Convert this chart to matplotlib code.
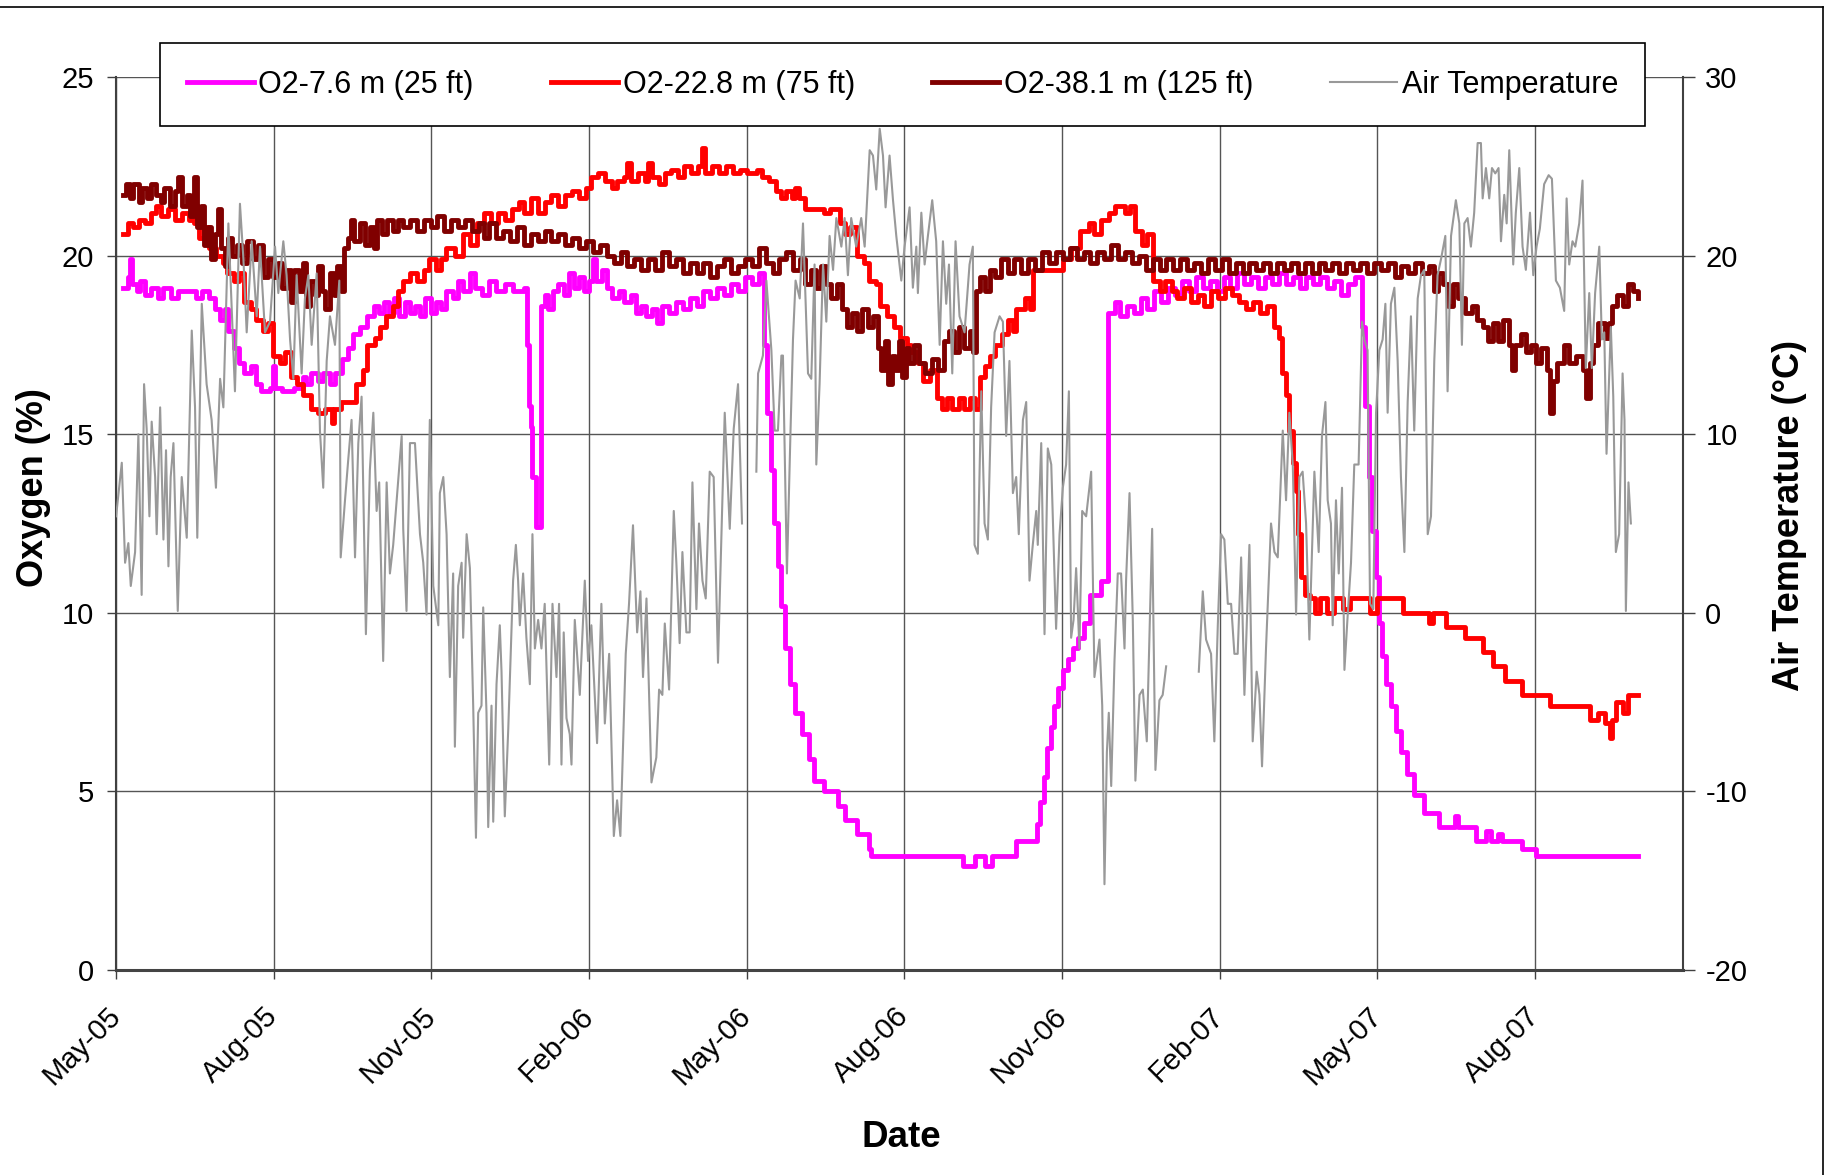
import numpy as np
import pandas as pd
import matplotlib
matplotlib.use("Agg")
import matplotlib.pyplot as plt
from matplotlib.lines import Line2D

plt.rcParams['font.family'] = ['Liberation Sans', 'DejaVu Sans']
plt.rcParams['axes.unicode_minus'] = False

# time axis: days counted from 10 May 2005
start = pd.Timestamp("2005-05-10")

x_tick_labels = ["May-05", "Aug-05", "Nov-05", "Feb-06", "May-06",
                 "Aug-06", "Nov-06", "Feb-07", "May-07", "Aug-07"]

# O2 at 7.6 m (25 ft)
o2_25_day = [4, 7, 8, 9, 12, 14, 17, 20, 24, 27, 32, 36, 42, 46, 50, 54, 57, 60, 63, 65,
             68, 71, 74, 78, 81, 84, 89, 91, 92, 96, 103, 108, 110, 113, 117, 120, 124, 127, 131, 134,
             137, 141, 145, 149, 152, 155, 158, 161, 164, 167, 170, 173, 176, 179, 182, 185, 188, 191, 195, 198,
             201, 205, 208, 212, 216, 220, 225, 230, 236, 238, 239, 240, 241, 243, 246, 248, 250, 253, 256, 259,
             262, 265, 268, 271, 274, 276, 278, 281, 284, 287, 291, 294, 298, 301, 304, 307, 310, 313, 316, 320,
             324, 328, 332, 336, 340, 344, 348, 352, 356, 360, 364, 368, 372, 375, 377, 379, 381, 383, 385, 387,
             390, 393, 397, 401, 404, 410, 418, 422, 429, 436, 437, 490, 497, 503, 507, 521, 533, 535, 537, 539,
             541, 543, 545, 548, 551, 554, 557, 560, 564, 570, 574, 578, 581, 585, 589, 593, 597, 601, 605, 609,
             613, 617, 621, 625, 629, 633, 637, 641, 645, 649, 653, 657, 661, 665, 669, 673, 677, 681, 685, 689,
             693, 697, 701, 705, 709, 713, 717, 721, 723, 725, 727, 729, 731, 733, 735, 738, 741, 744, 747, 751,
             757, 766, 775, 777, 787, 793, 796, 800, 802, 814, 822, 881]
o2_25_val = [19.1, 19.4, 19.9, 19.2, 19.0, 19.3, 18.9, 19.1, 18.8, 19.1, 18.8, 19.0, 19.0, 18.8, 19.0, 18.8, 18.5, 18.2, 18.5, 17.9,
             17.4, 17.0, 16.7, 16.9, 16.4, 16.2, 16.3, 16.9, 16.3, 16.2, 16.3, 16.6, 16.4, 16.7, 16.5, 16.7, 16.4, 16.7, 17.1, 17.4,
             17.8, 18.0, 18.3, 18.6, 18.4, 18.7, 18.4, 18.8, 18.3, 18.7, 18.4, 18.6, 18.3, 18.8, 18.4, 18.7, 18.5, 19.0, 18.8, 19.3,
             19.0, 19.5, 19.1, 18.9, 19.3, 19.0, 19.2, 19.0, 19.1, 17.5, 15.8, 15.2, 13.8, 12.4, 18.6, 18.9, 18.5, 19.0, 19.2, 18.9,
             19.5, 19.1, 19.4, 19.0, 19.3, 19.9, 19.3, 19.6, 19.1, 18.8, 19.0, 18.7, 18.9, 18.4, 18.6, 18.3, 18.5, 18.1, 18.6, 18.4,
             18.7, 18.5, 18.8, 18.6, 19.0, 18.8, 19.1, 18.9, 19.2, 19.0, 19.4, 19.2, 19.5, 17.5, 15.6, 14.0, 12.5, 11.3, 10.2, 9.0,
             8.0, 7.2, 6.6, 5.9, 5.3, 5.0, 4.6, 4.2, 3.8, 3.4, 3.2, 2.9, 3.2, 2.9, 3.2, 3.6, 4.1, 4.7, 5.4, 6.2,
             6.8, 7.4, 7.9, 8.4, 8.7, 9.0, 9.3, 9.7, 10.5, 10.9, 18.4, 18.7, 18.3, 18.6, 18.4, 18.8, 18.5, 19.0, 18.7, 19.1,
             18.9, 19.3, 19.0, 19.4, 19.1, 19.3, 19.0, 19.4, 19.1, 19.5, 19.2, 19.4, 19.1, 19.4, 19.2, 19.5, 19.2, 19.4, 19.1, 19.4,
             19.2, 19.4, 19.1, 19.3, 18.9, 19.2, 19.4, 18.0, 15.8, 13.8, 12.3, 11.0, 9.7, 8.8, 8.0, 7.4, 6.7, 6.1, 5.5, 4.9,
             4.4, 4.0, 4.3, 4.0, 3.6, 3.9, 3.6, 3.8, 3.6, 3.4, 3.2, 3.2]

# O2 at 22.8 m (75 ft)
o2_75_day = [4, 7, 10, 13, 17, 20, 23, 26, 30, 34, 38, 42, 45, 48, 51, 54, 58, 62, 64, 68,
             71, 74, 78, 81, 85, 88, 91, 95, 98, 101, 105, 108, 113, 117, 121, 125, 126, 130, 135, 139,
             143, 145, 150, 153, 156, 160, 163, 166, 170, 174, 178, 181, 185, 188, 191, 196, 201, 205, 209, 213,
             217, 221, 225, 229, 233, 236, 240, 244, 248, 252, 256, 260, 264, 268, 272, 275, 279, 283, 287, 290,
             294, 296, 298, 302, 306, 308, 310, 314, 318, 321, 325, 329, 333, 337, 339, 341, 345, 349, 353, 357,
             361, 365, 371, 374, 378, 382, 385, 388, 391, 393, 395, 399, 410, 413, 419, 422, 425, 429, 433, 436,
             440, 442, 446, 450, 454, 458, 460, 464, 467, 471, 475, 478, 481, 484, 488, 491, 494, 497, 500, 503,
             506, 509, 513, 516, 519, 521, 526, 529, 531, 540, 548, 553, 558, 563, 566, 570, 575, 578, 584, 587,
             590, 594, 597, 600, 604, 607, 611, 614, 618, 622, 626, 630, 634, 638, 642, 646, 650, 654, 658, 662,
             666, 670, 673, 675, 677, 679, 681, 683, 684, 686, 688, 691, 694, 697, 701, 705, 710, 714, 726, 730,
             745, 760, 762, 770, 781, 791, 797, 804, 814, 830, 853, 858, 862, 865, 866, 868, 872, 875, 881]
o2_75_val = [20.6, 20.9, 20.8, 21.0, 20.9, 21.2, 21.4, 21.1, 21.3, 21.0, 21.2, 21.0, 20.9, 20.5, 20.8, 20.2, 20.0, 19.8, 19.5, 19.3,
             19.5, 18.7, 18.5, 18.2, 17.9, 18.1, 17.2, 17.0, 17.3, 16.6, 16.4, 16.1, 15.7, 15.6, 15.7, 15.3, 15.7, 15.9, 15.9, 16.4,
             16.8, 17.5, 17.7, 18.0, 18.3, 18.6, 19.0, 19.3, 19.5, 19.3, 19.6, 19.9, 19.6, 19.9, 20.2, 20.0, 20.6, 20.3, 20.9, 21.2,
             20.9, 21.2, 21.0, 21.3, 21.5, 21.2, 21.6, 21.2, 21.5, 21.7, 21.4, 21.7, 21.8, 21.6, 21.9, 22.2, 22.3, 22.1, 21.9, 22.1,
             22.2, 22.6, 22.1, 22.3, 22.1, 22.6, 22.2, 22.0, 22.3, 22.4, 22.2, 22.5, 22.3, 22.5, 23.0, 22.3, 22.5, 22.3, 22.5, 22.3,
             22.4, 22.3, 22.4, 22.2, 22.1, 21.8, 21.6, 21.8, 21.6, 21.9, 21.6, 21.3, 21.2, 21.3, 20.9, 20.6, 20.8, 20.0, 19.8, 19.3,
             19.2, 18.6, 18.3, 18.0, 17.7, 17.5, 17.3, 17.0, 16.5, 16.8, 16.0, 15.7, 16.0, 15.7, 16.0, 15.7, 16.0, 15.7, 16.6, 16.9,
             17.2, 17.5, 17.8, 18.2, 17.9, 18.5, 18.8, 18.5, 19.6, 19.6, 19.9, 20.2, 20.7, 20.9, 20.6, 21.0, 21.2, 21.4, 21.2, 21.4,
             20.7, 20.3, 20.6, 19.3, 19.0, 19.3, 19.0, 18.8, 19.1, 18.7, 18.9, 18.6, 19.0, 18.8, 19.1, 18.9, 18.7, 18.5, 18.7, 18.4,
             18.6, 18.0, 17.7, 16.7, 16.1, 15.1, 14.2, 13.4, 12.2, 11.0, 10.5, 10.4, 10.0, 10.4, 10.0, 10.4, 10.1, 10.4, 10.0, 10.4,
             10.0, 9.7, 10.0, 9.6, 9.3, 8.9, 8.5, 8.1, 7.7, 7.4, 7.0, 7.2, 6.9, 6.5, 7.0, 7.5, 7.2, 7.7, 7.7]

# O2 at 38.1 m (125 ft)
o2_125_day = [4, 6, 8, 10, 13, 15, 18, 20, 23, 26, 28, 31, 34, 36, 38, 41, 43, 45, 47, 49,
              51, 53, 55, 57, 59, 61, 63, 65, 67, 70, 73, 76, 79, 82, 85, 88, 91, 94, 96, 99,
              101, 103, 106, 108, 110, 112, 115, 117, 119, 121, 124, 126, 128, 130, 132, 134, 136, 138, 141, 144,
              147, 149, 151, 154, 157, 160, 163, 166, 170, 174, 178, 182, 186, 190, 194, 198, 202, 206, 210, 213,
              216, 220, 224, 228, 232, 236, 240, 244, 248, 252, 256, 260, 264, 268, 272, 276, 280, 284, 288, 292,
              296, 300, 304, 308, 312, 316, 320, 324, 328, 332, 336, 340, 344, 348, 352, 356, 360, 364, 368, 372,
              376, 380, 384, 388, 392, 396, 399, 402, 405, 408, 411, 414, 417, 420, 423, 426, 429, 432, 435, 438,
              441, 443, 445, 447, 449, 451, 453, 455, 457, 459, 462, 465, 468, 472, 476, 479, 482, 485, 488, 491,
              494, 496, 498, 500, 503, 506, 509, 512, 516, 520, 524, 528, 532, 536, 540, 544, 548, 552, 556, 560,
              564, 568, 572, 576, 580, 584, 588, 592, 596, 600, 604, 608, 612, 616, 620, 624, 628, 632, 636, 640,
              644, 648, 652, 656, 660, 664, 668, 672, 676, 680, 684, 688, 692, 696, 700, 704, 708, 712, 716, 720,
              724, 728, 732, 736, 740, 744, 748, 752, 756, 760, 763, 765, 768, 771, 774, 777, 781, 785, 788, 791,
              794, 797, 800, 803, 806, 808, 810, 813, 816, 819, 822, 825, 828, 830, 832, 834, 838, 841, 845, 849,
              851, 853, 855, 858, 862, 864, 866, 869, 872, 875, 878, 881]
o2_125_val = [21.7, 22.0, 21.6, 22.0, 21.5, 21.9, 21.6, 22.0, 21.7, 21.5, 21.9, 21.4, 21.8, 22.2, 21.4, 21.7, 21.1, 22.2, 20.8, 21.4,
              20.3, 20.8, 19.9, 20.6, 21.3, 20.2, 19.7, 20.5, 20.0, 20.3, 19.8, 20.4, 19.9, 20.3, 19.4, 19.9, 19.4, 19.8, 19.1, 19.6,
              18.7, 19.6, 19.0, 19.8, 18.6, 19.3, 18.9, 19.7, 19.0, 18.5, 19.5, 18.9, 19.7, 19.0, 20.2, 20.5, 21.0, 20.4, 20.9, 20.3,
              20.8, 20.2, 21.0, 20.6, 21.0, 20.7, 21.0, 20.8, 21.0, 20.7, 21.0, 20.8, 21.1, 20.7, 21.0, 20.8, 21.0, 20.7, 20.9, 20.5,
              20.9, 20.5, 20.7, 20.4, 20.8, 20.3, 20.6, 20.4, 20.7, 20.4, 20.6, 20.3, 20.5, 20.2, 20.4, 20.1, 20.3, 20.0, 19.8, 20.1,
              19.7, 19.9, 19.6, 19.9, 19.6, 20.1, 19.7, 19.9, 19.5, 19.8, 19.5, 19.8, 19.4, 19.7, 19.9, 19.5, 19.7, 19.9, 19.7, 20.2,
              19.8, 19.5, 19.9, 20.1, 19.6, 19.9, 19.2, 19.6, 19.1, 19.7, 19.2, 18.8, 19.2, 18.5, 18.0, 18.4, 17.9, 18.5, 18.0, 18.3,
              17.4, 16.8, 17.6, 16.4, 17.2, 16.8, 17.6, 16.6, 17.4, 17.0, 17.5, 17.0, 16.7, 17.1, 16.8, 17.6, 17.9, 17.3, 18.0, 17.4,
              17.9, 17.3, 19.0, 19.4, 19.0, 19.6, 19.4, 19.9, 19.5, 19.9, 19.5, 19.9, 19.6, 20.1, 19.8, 20.1, 19.9, 20.2, 19.9, 20.1,
              19.8, 20.1, 19.9, 20.3, 19.9, 20.1, 19.8, 20.0, 19.6, 19.9, 19.6, 19.9, 19.6, 19.9, 19.6, 19.8, 19.5, 19.9, 19.6, 19.9,
              19.5, 19.8, 19.5, 19.8, 19.6, 19.8, 19.5, 19.8, 19.6, 19.8, 19.5, 19.8, 19.5, 19.8, 19.6, 19.8, 19.5, 19.8, 19.6, 19.8,
              19.5, 19.8, 19.6, 19.8, 19.4, 19.7, 19.5, 19.8, 19.5, 19.7, 19.0, 19.5, 19.2, 18.6, 19.2, 18.8, 18.4, 18.6, 18.2, 18.0,
              17.6, 18.1, 17.6, 18.2, 17.5, 16.8, 17.5, 17.8, 17.3, 17.5, 17.0, 17.4, 16.8, 15.6, 16.5, 17.0, 17.5, 17.0, 17.2, 16.8,
              16.0, 17.0, 17.5, 18.1, 17.7, 18.1, 18.6, 18.9, 18.6, 19.2, 19.0, 18.8]

# air temperature (right axis), NaN = missing record
air_day = [0, 3.3, 5.2, 7.1, 8.5, 11.0, 12.9, 14.8, 16.2, 17.7, 19.3, 20.6, 22.6, 23.5, 25.5, 27.4, 28.9, 30.3, 31.6, 33.2,
           35.7, 38.0, 40.9, 43.8, 45.7, 47.0, 49.6, 52.4, 55.3, 57.8, 60.2, 62.1, 65.0, 68.8, 71.7, 73.7, 75.6, 78.5, 81.4, 83.3,
           86.2, 89.1, 92.0, 93.9, 96.8, 98.7, 100.7, 102.6, 104.5, 107.4, 109.3, 111.3, 113.2, 116.1, 118.0, 119.9, 121.9, 123.8, 126.7, 129.2,
           130.0, 132.5, 134.4, 136.3, 138.3, 140.2, 142.1, 144.6, 146.9, 148.9, 150.8, 152.3, 154.6, 156.6, 158.5, 160.4, 162.4, 165.3, 166.2, 168.1,
           170.1, 173.0, 175.9, 177.8, 179.7, 181.6, 183.6, 186.5, 187.4, 189.4, 191.3, 193.2, 195.1, 196.1, 198.0, 200.0, 200.9, 202.9, 204.8, 206.7,
           208.3, 209.6, 211.5, 212.5, 214.4, 215.4, 217.3, 218.3, 220.2, 222.1, 223.1, 225.0, 227.0, 229.8, 231.4, 232.7, 233.7, 235.6, 237.5, 239.5,
           241.0, 242.4, 244.3, 246.2, 248.1, 250.7, 252.6, 254.9, 256.4, 257.8, 259.1, 260.7, 262.6, 263.6, 265.5, 268.4, 271.3, 273.2, 275.1, 278.4,
           280.9, 282.9, 285.4, 288.1, 290.0, 291.9, 295.0, 296.9, 299.2, 301.6, 303.5, 305.0, 307.0, 309.9, 312.7, 314.3, 316.2, 317.6, 320.1, 322.8,
           324.3, 326.2, 327.8, 330.1, 332.0, 333.6, 335.9, 337.4, 339.4, 341.3, 343.6, 345.9, 348.4, 352.3, 355.2, 357.5, 360.0, 362.3, 366.0, 370.6,
           371.6, 374.4, 376.4, 379.3, 381.2, 383.1, 385.1, 386.0, 388.3, 390.3, 391.8, 393.3, 395.7, 397.6, 400.5, 402.4, 404.3, 405.3, 407.2, 409.2,
           411.1, 413.0, 415.0, 416.9, 419.8, 421.7, 423.6, 425.5, 428.4, 431.3, 433.3, 436.2, 438.1, 440.0, 442.0, 443.9, 445.4, 447.7, 449.7, 451.6,
           454.5, 456.4, 459.3, 461.2, 463.2, 464.1, 466.1, 468.0, 469.9, 472.4, 474.7, 476.7, 478.6, 480.5, 482.1, 484.0, 485.9, 488.2, 491.1, 494.0,
           495.9, 496.9, 498.8, 500.8, 502.7, 504.6, 506.5, 508.5, 511.4, 513.3, 515.2, 517.1, 519.1, 521.0, 522.5, 524.9, 526.8, 528.7, 530.6, 532.6,
           533.5, 535.5, 537.4, 539.3, 541.3, 544.1, 546.1, 548.0, 549.9, 551.5, 552.8, 554.2, 555.7, 557.6, 559.2, 561.5, 564.4, 566.3, 569.2, 570.8,
           572.1, 573.5, 574.6, 576.0, 577.9, 579.8, 581.7, 583.7, 584.6, 586.6, 588.5, 590.0, 592.4, 594.3, 596.6, 599.7, 601.6, 603.9, 605.8, 607.8,
           617.0, 626.7, 629.0, 630.9, 633.8, 635.7, 637.7, 639.6, 641.5, 643.5, 645.4, 647.3, 649.2, 651.2, 653.1, 656.0, 657.9, 660.2, 661.8, 663.3,
           665.6, 668.5, 670.5, 672.4, 675.3, 677.2, 679.1, 681.1, 683.0, 684.9, 686.8, 688.8, 690.7, 693.6, 696.1, 698.0, 700.0, 701.3, 703.2, 704.2,
           706.1, 707.7, 709.6, 711.0, 712.9, 714.8, 716.7, 719.2, 721.2, 722.5, 724.4, 725.8, 727.7, 729.3, 731.2, 733.1, 734.7, 736.0, 737.9, 739.9,
           741.8, 743.7, 745.7, 747.6, 749.5, 751.4, 753.4, 755.3, 757.2, 759.2, 761.1, 763.0, 764.9, 766.9, 769.4, 770.7, 772.7, 775.5, 777.5, 779.0,
           780.4, 782.3, 784.2, 786.1, 788.1, 790.0, 791.0, 792.9, 794.8, 796.4, 798.3, 800.2, 801.6, 803.5, 804.9, 806.4, 808.7, 810.2, 812.2, 814.1,
           816.0, 818.4, 820.3, 822.2, 824.1, 826.6, 829.2, 831.1, 833.4, 835.7, 838.2, 839.6, 841.1, 843.0, 844.6, 846.9, 848.8, 850.7, 852.7, 854.2,
           856.1, 858.5, 860.0, 861.4, 862.7, 865.2, 866.6, 868.1, 870.0, 872.0, 873.1, 873.9, 875.4, 876.8]
air_temp = [5.4, 8.4, 2.8, 3.9, 1.5, 3.4, 10.0, 1.0, 12.8, 10.3, 5.4, 10.7, 7.6, 4.4, 11.5, 4.1, 9.1, 2.6, 7.6, 9.5,
            0.1, 7.6, 4.2, 15.8, 11.5, 4.2, 17.3, 12.8, 10.8, 7.0, 13.1, 11.5, 21.8, 12.4, 22.9, 19.8, 15.7, 20.8, 16.6, 20.5,
            15.7, 16.3, 20.5, 17.9, 20.8, 18.9, 15.3, 13.1, 18.9, 13.4, 17.6, 18.9, 15.0, 19.0, 10.2, 7.0, 14.1, 16.6, 15.0, 18.6,
            3.1, 6.3, 8.6, 10.8, 3.1, 9.5, 12.1, -1.2, 8.0, 11.2, 5.7, 7.3, -2.7, 7.3, 2.2, 3.8, 6.3, 9.9, 4.7, 0.1,
            9.5, 9.5, 4.4, 2.8, -0.1, 10.8, 1.5, -0.7, 6.7, 7.6, 4.4, -3.6, 2.2, -7.5, 1.5, 2.8, -1.4, 4.4, 2.5, -5.2,
            -12.6, -5.6, -5.2, 0.3, -5.6, -12.0, -5.2, -11.7, -4.0, -0.7, -3.3, -11.4, -6.5, 1.8, 3.8, 1.8, -0.7, 2.2, -1.4, -4.0,
            4.4, -2.0, -0.4, -2.0, 0.5, -8.5, 0.5, -3.6, 0.5, -8.5, -1.1, -5.9, -6.8, -8.5, -0.4, -4.6, 1.8, -2.7, -0.7, -7.3,
            0.5, -6.2, -2.3, -12.5, -10.5, -12.5, -2.3, 0.5, 4.9, -1.1, 1.2, -3.6, 0.8, -9.5, -8.1, -4.3, -4.6, -0.6, -4.3, 5.7,
            2.8, -1.7, 3.4, -1.1, -1.1, 7.3, 0.2, 5.0, 1.8, 0.8, 7.9, 7.6, -2.8, 11.2, 4.7, 10.3, 12.8, 5.0, np.nan, 7.9,
            13.4, 14.4, 18.6, 14.7, 10.2, 10.2, 14.4, 14.4, 2.2, 9.9, 15.3, 18.6, 17.6, 21.8, 13.4, 13.1, 19.5, 8.3, 12.8, 19.5,
            16.3, 21.1, 19.2, 22.1, 20.5, 22.1, 18.9, 22.1, 20.5, 22.1, 20.5, 25.9, 25.6, 23.7, 27.1, 25.6, 22.7, 25.6, 23.1, 21.1,
            18.6, 20.5, 22.7, 18.2, 20.5, 17.9, 22.4, 19.5, 21.1, 23.1, 20.8, 15.0, 20.8, 17.3, 19.5, 13.4, 20.8, 16.6, 15.7, 19.5,
            20.5, 3.8, 3.3, 12.4, 5.0, 4.1, 11.5, 15.7, 16.6, 16.3, 9.9, 14.1, 6.7, 7.6, 4.4, 10.8, 11.8, 1.8, 3.8, 5.7,
            3.8, 9.5, -1.2, 9.2, 8.3, -0.9, 4.4, 7.0, 8.3, 12.4, -1.4, -0.4, 2.5, -2.0, 5.7, 5.4, 7.9, -3.6, -1.5, -5.2,
            -15.2, -7.8, -5.6, -9.7, -2.7, 2.2, 2.2, -2.0, 1.8, 6.7, -0.4, -9.4, -4.6, -4.3, -7.2, 4.7, -8.8, -4.9, -4.6, -3.0,
            np.nan, -3.3, 1.2, -1.5, -2.3, -7.2, -0.7, 4.4, 4.1, 0.5, 0.5, -2.3, -2.3, 3.1, -4.6, 3.8, -7.2, -3.3, -4.6, -8.6,
            -2.0, 5.0, 3.4, 3.1, 10.2, 6.3, 11.2, 8.3, -0.1, 7.6, 7.9, 5.0, -1.5, 7.9, 3.4, 9.9, 11.8, 6.3, 5.0, -0.7,
            6.3, 2.2, 7.0, -3.2, -0.1, 2.8, 8.3, 8.3, 16.3, 15.3, 14.7, 0.5, 0.2, 11.2, 14.7, 15.3, 17.3, 11.2, 17.3, 18.2,
            14.1, 7.6, 3.4, 11.8, 16.6, 10.2, 17.6, 18.9, 19.2, 4.4, 5.4, 14.1, 18.9, 19.8, 21.1, 12.4, 21.1, 23.1, 21.8, 15.0,
            21.8, 22.1, 20.5, 22.4, 26.3, 26.3, 23.2, 24.9, 23.2, 24.9, 24.6, 24.9, 20.8, 23.4, 21.8, 25.9, 19.5, 22.4, 24.9, 20.5,
            19.2, 22.4, 18.9, 20.5, 21.5, 24.0, 24.5, 24.3, 18.6, 18.2, 16.9, 23.2, 19.5, 20.8, 20.5, 21.8, 24.2, 13.7, 17.9, 13.7,
            17.9, 20.5, 15.3, 15.7, 8.9, 16.0, 12.1, 3.4, 4.4, 13.4, 10.8, 0.1, 7.3, 5.0]


def to_dates(days):
    return start + pd.to_timedelta(np.asarray(days, dtype=float), unit="D")


fig = plt.figure(figsize=(18.31, 11.75), dpi=100)
ax = fig.add_axes([0.0634, 0.1745, 0.8558, 0.760])
ax2 = ax.twinx()

l1, = ax.plot(to_dates(o2_25_day), o2_25_val, color="#FF00FF", lw=3.5, drawstyle="steps-post")
l2, = ax.plot(to_dates(o2_75_day), o2_75_val, color="#FF0000", lw=3.5, drawstyle="steps-post")
l3, = ax.plot(to_dates(o2_125_day), o2_125_val, color="#800000", lw=3.5, drawstyle="steps-post")
l4, = ax2.plot(to_dates(air_day), air_temp, color="#999999", lw=1.5)

# axes
ax.set_ylim(0, 25)
ax.set_yticks(np.arange(0, 26, 5))
ax2.set_ylim(-20, 30)
ax2.set_yticks(np.arange(-20, 31, 10))
tick_dates = [start + pd.Timedelta(days=91.25 * k) for k in range(len(x_tick_labels))]
ax.set_xlim(start, start + pd.Timedelta(days=907))
ax.set_xticks(tick_dates, labels=x_tick_labels)

ax.grid(True, color="#555555", lw=1.0)
ax.set_axisbelow(True)

for s in ["top", "right"]:
    ax.spines[s].set_visible(False)
for s in ["top", "left", "bottom"]:
    ax2.spines[s].set_visible(False)
ax.spines["left"].set_color("#404040")
ax.spines["left"].set_linewidth(1.5)
ax.spines["bottom"].set_color("#444444")
ax.spines["bottom"].set_linewidth(2.2)
ax2.spines["right"].set_color("#404040")
ax2.spines["right"].set_linewidth(1.5)

ax.tick_params(axis="y", labelsize=21, length=6.5, width=1, color="#404040", pad=9.5)
ax.tick_params(axis="x", labelsize=21, length=6.5, width=1, color="#404040", pad=23.5)
ax2.tick_params(axis="y", labelsize=21, length=8.5, width=1, color="#404040", pad=7.5)
for lab in ax.get_xticklabels():
    lab.set_rotation(45)
    lab.set_ha("right")
    lab.set_va("center")
    lab.set_rotation_mode("anchor")

fig.text(0.0183, 0.5847, "Oxygen (%)", rotation=90, ha="center", va="center",
         fontsize=26, fontweight="bold")
fig.text(0.4925, 0.0238, "Date", ha="center", va="baseline", fontsize=26.5, fontweight="bold")
fig.text(0.9776, 0.5617, "Air Temperature (°C)", rotation=90, ha="center", va="center",
         fontsize=26, fontweight="bold")

leg = fig.legend([l1, l2, l3, l4],
                 ["O2-7.6 m (25 ft)", "O2-22.8 m (75 ft)", "O2-38.1 m (125 ft)", "Air Temperature"],
                 loc="center", bbox_to_anchor=(0.0874, 0.8936, 0.811, 0.0689), mode="expand",
                 ncol=4, fontsize=22, frameon=True, fancybox=False, edgecolor="black",
                 framealpha=1, handlelength=2.2, handletextpad=0.15, borderpad=0.87,
                 borderaxespad=0)
leg.get_frame().set_linewidth(1.2)

# outer chart border (top and right edges visible)
fig.add_artist(Line2D([0, 0.9956], [0.994, 0.994], transform=fig.transFigure, color="black", lw=1.2))
fig.add_artist(Line2D([0.9956, 0.9956], [0, 0.994], transform=fig.transFigure, color="black", lw=1.2))

fig.savefig("out.png", dpi=100)
